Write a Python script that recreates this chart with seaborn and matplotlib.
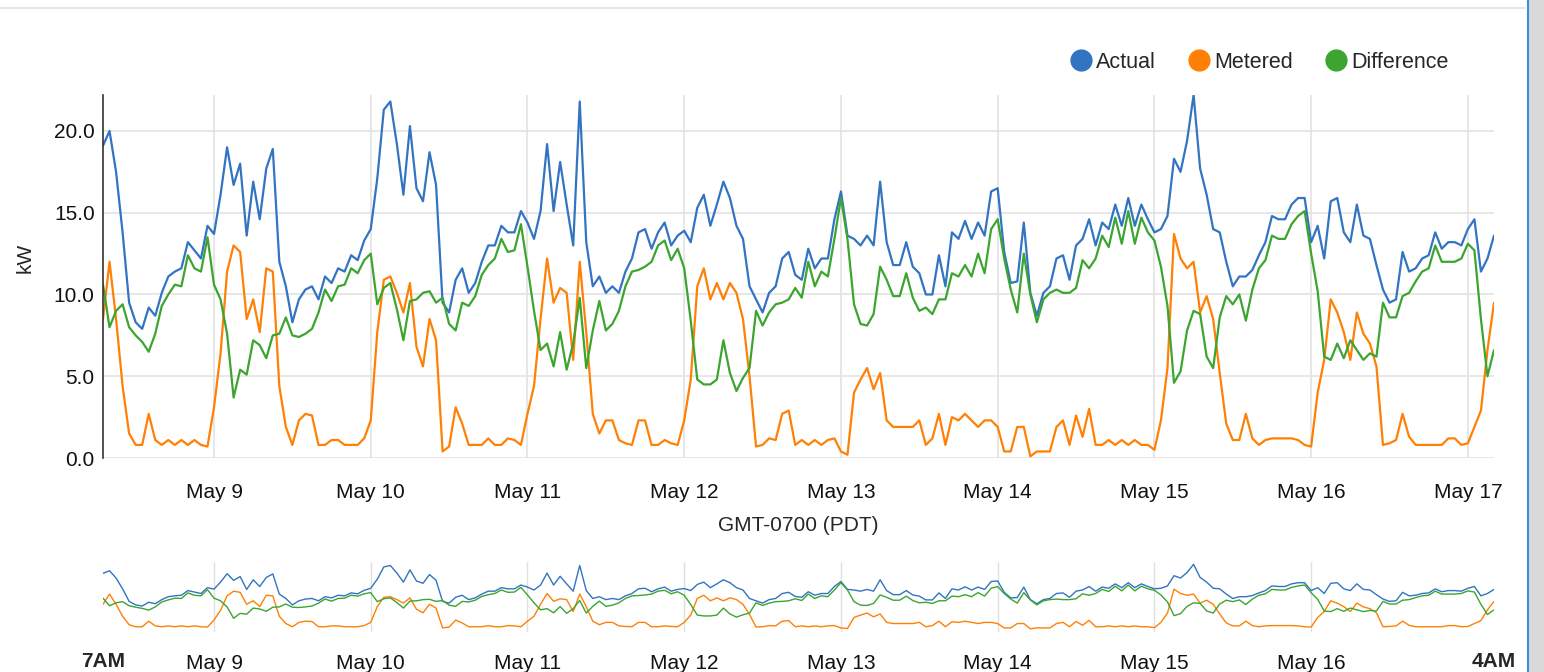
import pandas as pd
import numpy as np
import matplotlib
matplotlib.use("Agg")
import matplotlib.pyplot as plt
import matplotlib.dates as mdates
from matplotlib.lines import Line2D
import seaborn as sns

# hourly readings, May 8 7AM -> May 17 4AM
start = "2019-05-08 07:00"

actual = [
    19.1, 20.0, 17.5, 13.8, 9.5, 8.3, 7.9, 9.2, 8.7, 10.1, 11.1, 11.4, 11.6, 13.2, 12.7, 12.2, 14.2, 13.7,
    16.1, 19.0, 16.7, 18.0, 13.6, 16.9, 14.6, 17.7, 18.9, 12.0, 10.5, 8.3, 9.7, 10.3, 10.5, 9.7, 11.1, 10.7,
    11.6, 11.4, 12.4, 12.1, 13.3, 14.0, 17.1, 21.3, 21.8, 19.2, 16.1, 20.3, 16.5, 15.7, 18.7, 16.7, 9.5, 8.9,
    10.9, 11.6, 10.1, 10.7, 12.0, 13.0, 13.0, 14.2, 13.8, 13.8, 15.1, 14.4, 13.4, 15.1, 19.2, 15.1, 18.1,
    15.5, 13.0, 21.8, 13.2, 10.5, 11.1, 10.1, 10.5, 10.1, 11.4, 12.2, 13.8, 14.0, 12.8, 13.8, 14.4, 13.0,
    13.6, 13.9, 13.2, 15.3, 16.1, 14.2, 15.5, 16.9, 15.9, 14.2, 13.4, 10.5, 9.7, 8.9, 10.1, 10.5, 12.2, 12.6,
    11.2, 10.9, 12.8, 11.6, 12.2, 12.2, 14.6, 16.3, 13.6, 13.4, 13.0, 13.6, 13.0, 16.9, 13.2, 11.8, 11.8,
    13.2, 11.7, 11.3, 10.0, 10.0, 12.4, 10.5, 13.8, 13.4, 14.5, 13.4, 14.4, 13.6, 16.3, 16.5, 12.6, 10.7, 10.8,
    14.4, 10.1, 8.7, 10.1, 10.5, 12.2, 12.4, 10.9, 13.0, 13.4, 14.6, 13.0, 14.4, 14.0, 15.5, 14.2, 15.9, 14.2,
    15.5, 14.6, 13.8, 14.0, 14.8, 18.3, 17.5, 19.4, 22.2, 17.7, 16.1, 14.0, 13.8, 12.0, 10.5, 11.1, 11.1,
    11.5, 12.4, 13.2, 14.8, 14.6, 14.6, 15.5, 15.9, 15.9, 13.2, 14.2, 12.2, 15.7, 15.9, 13.8, 13.2, 15.5, 13.6,
    13.4, 11.8, 10.3, 9.5, 9.7, 12.6, 11.4, 11.6, 12.2, 12.4, 13.8, 12.8, 13.2, 13.2, 13.0, 14.0, 14.6, 11.4,
    12.2, 13.6,
]

metered = [
    8.5, 12.0, 8.5, 4.4, 1.5, 0.8, 0.8, 2.7, 1.1, 0.8, 1.1, 0.8, 1.1, 0.8, 1.1, 0.8, 0.7, 3.1,
    6.4, 11.4, 13.0, 12.6, 8.5, 9.7, 7.7, 11.6, 11.4, 4.4, 1.9, 0.8, 2.3, 2.7, 2.6, 0.8, 0.8, 1.1,
    1.1, 0.8, 0.8, 0.8, 1.2, 2.3, 7.7, 10.9, 11.1, 10.1, 8.9, 10.7, 6.8, 5.6, 8.5, 7.2, 0.4, 0.7,
    3.1, 2.1, 0.8, 0.8, 0.8, 1.2, 0.8, 0.8, 1.2, 1.1, 0.8, 2.7, 4.4, 8.5, 12.2, 9.5, 10.4,
    10.1, 6.0, 12.0, 7.7, 2.7, 1.5, 2.3, 2.3, 1.1, 0.9, 0.8, 2.3, 2.3, 0.8, 0.8, 1.1, 0.9,
    0.8, 2.3, 4.8, 10.5, 11.6, 9.7, 10.7, 9.7, 10.7, 10.1, 8.5, 5.0, 0.7, 0.8, 1.2, 1.1, 2.7, 2.9,
    0.8, 1.1, 0.8, 1.1, 0.8, 1.1, 1.2, 0.4, 0.2, 4.0, 4.8, 5.5, 4.2, 5.2, 2.3, 1.9, 1.9,
    1.9, 1.9, 2.3, 0.8, 1.2, 2.7, 0.8, 2.5, 2.3, 2.7, 2.3, 1.9, 2.3, 2.3, 1.9, 0.4, 0.4, 1.9,
    1.9, 0.1, 0.4, 0.4, 0.4, 1.9, 2.3, 0.8, 2.6, 1.3, 3.0, 0.8, 0.8, 1.1, 0.8, 1.1, 0.8, 1.1,
    0.8, 0.8, 0.5, 2.3, 5.5, 13.7, 12.2, 11.6, 12.0, 8.9, 9.9, 8.5, 5.2, 2.1, 1.1, 1.1, 2.7,
    1.2, 0.8, 1.1, 1.2, 1.2, 1.2, 1.2, 1.1, 0.8, 0.7, 4.0, 6.0, 9.7, 8.9, 7.7, 6.0, 8.9, 7.6,
    7.0, 5.6, 0.8, 0.9, 1.1, 2.7, 1.3, 0.8, 0.8, 0.8, 0.8, 0.8, 1.2, 1.2, 0.8, 0.9, 1.9, 2.9,
    6.6, 9.5,
]

difference = [
    10.6, 8.0, 9.0, 9.4, 8.0, 7.5, 7.1, 6.5, 7.6, 9.3, 10.0, 10.6, 10.5, 12.4, 11.6, 11.4, 13.5, 10.6,
    9.7, 7.6, 3.7, 5.4, 5.1, 7.2, 6.9, 6.1, 7.5, 7.6, 8.6, 7.5, 7.4, 7.6, 7.9, 8.9, 10.3, 9.6,
    10.5, 10.6, 11.6, 11.3, 12.1, 12.5, 9.4, 10.4, 10.7, 9.1, 7.2, 9.6, 9.7, 10.1, 10.2, 9.5, 9.8, 8.2,
    7.8, 9.5, 9.3, 9.9, 11.2, 11.8, 12.2, 13.4, 12.6, 12.7, 14.3, 11.7, 9.0, 6.6, 7.0, 5.6, 7.7,
    5.4, 7.0, 9.8, 5.5, 7.8, 9.6, 7.8, 8.2, 9.0, 10.5, 11.4, 11.5, 11.7, 12.0, 13.0, 13.3, 12.1,
    12.8, 11.6, 8.4, 4.8, 4.5, 4.5, 4.8, 7.2, 5.2, 4.1, 4.9, 5.5, 9.0, 8.1, 8.9, 9.4, 9.5, 9.7,
    10.4, 9.8, 12.0, 10.5, 11.4, 11.1, 13.4, 15.9, 13.4, 9.4, 8.2, 8.1, 8.8, 11.7, 10.9, 9.9, 9.9,
    11.3, 9.8, 9.0, 9.2, 8.8, 9.7, 9.7, 11.3, 11.1, 11.8, 11.1, 12.5, 11.3, 14.0, 14.6, 12.2, 10.3, 8.9,
    12.5, 10.0, 8.3, 9.7, 10.1, 10.3, 10.1, 10.1, 10.4, 12.1, 11.6, 12.2, 13.6, 12.9, 14.7, 13.1, 15.1, 13.1,
    14.7, 13.8, 13.3, 11.7, 9.3, 4.6, 5.3, 7.8, 9.0, 8.8, 6.2, 5.5, 8.6, 9.9, 9.4, 10.0, 8.4,
    10.3, 11.6, 12.1, 13.6, 13.4, 13.4, 14.3, 14.8, 15.1, 12.5, 10.2, 6.2, 6.0, 7.0, 6.1, 7.2, 6.6, 6.0,
    6.4, 6.2, 9.5, 8.6, 8.6, 9.9, 10.1, 10.8, 11.4, 11.6, 13.0, 12.0, 12.0, 12.0, 12.2, 13.1, 12.7, 8.5,
    5.0, 6.6,
]

series_names = ["Actual", "Metered", "Difference"]
colors = ["#3274c2", "#ff8005", "#3ba530"]

times = pd.date_range(start, periods=len(actual), freq="h")
df = pd.DataFrame({"time": times, "Actual": actual, "Metered": metered, "Difference": difference})
long_df = df.melt(id_vars="time", var_name="series", value_name="kW")

sns.set_style("white")
plt.rcParams["font.family"] = ["Liberation Sans", "DejaVu Sans"]

fig = plt.figure(figsize=(15.44, 6.72), dpi=100)
W, H = 1544, 672
x0, x1 = 103, 1494

# main chart
ax = fig.add_axes([x0 / W, 1 - 458 / H, (x1 - x0) / W, (458 - 95) / H])
sns.lineplot(data=long_df, x="time", y="kW", hue="series", hue_order=series_names,
             palette=colors, linewidth=1.6, legend=False, ax=ax)
ax.set_xlim(times[0], times[-1])
ax.set_ylim(0, 22.2)
ax.set_yticks([0, 5, 10, 15, 20])
ax.set_yticklabels([f"{v:.1f}" for v in [0, 5, 10, 15, 20]])
ax.xaxis.set_major_locator(mdates.DayLocator())
ax.xaxis.set_major_formatter(mdates.DateFormatter("%b %-d"))
ax.grid(True, color="#e3e3e3", linewidth=1.2)
ax.set_axisbelow(True)
for s in ["top", "right", "bottom"]:
    ax.spines[s].set_visible(False)
ax.spines["left"].set_color("#333333")
ax.spines["left"].set_linewidth(1.2)
ax.tick_params(axis="x", length=0, pad=18, labelsize=15, colors="#111111")
ax.tick_params(axis="y", length=0, pad=6, labelsize=15, colors="#111111")
ax.set_xlabel("GMT-0700 (PDT)", fontsize=15, labelpad=10)
ax.set_ylabel("kW", fontsize=15)
ax.yaxis.set_label_coords(-0.049, 0.55)

# legend
handles = [Line2D([], [], marker="o", linestyle="", markersize=15, color=c) for c in colors]
fig.legend(handles, series_names, loc="center right", bbox_to_anchor=(1468 / W, 1 - 62 / H),
           ncol=3, frameon=False, fontsize=15.5, handletextpad=-0.1, columnspacing=1.2,
           handlelength=1.6)

# navigator
nav = fig.add_axes([x0 / W, 1 - 632 / H, (x1 - x0) / W, (632 - 562) / H])
sns.lineplot(data=long_df, x="time", y="kW", hue="series", hue_order=series_names,
             palette=colors, linewidth=1.0, legend=False, ax=nav)
nav.set_xlim(times[0], times[-1])
nav.set_ylim(-1, 23)
nav.set_yticks([])
nav.set_ylabel("")
nav.set_xlabel("")
nav_days = pd.date_range("2019-05-09", "2019-05-16", freq="D")
nav.set_xticks(nav_days)
nav.xaxis.set_major_formatter(mdates.DateFormatter("%b %-d"))
nav.grid(True, axis="x", color="#e0e0e0", linewidth=1)
for s in nav.spines.values():
    s.set_visible(False)
nav.tick_params(axis="x", length=0, pad=16, labelsize=15, colors="#111111")
nav.text(0.0, -0.42, "7AM", transform=nav.transAxes, ha="center", va="center",
         fontsize=15, fontweight="bold")
nav.text(1.0, -0.42, "4AM", transform=nav.transAxes, ha="center", va="center",
         fontsize=15, fontweight="bold")

# page frame: thin top rule and right-hand scrollbar strip
fig.add_artist(Line2D([0, 1525 / W], [1 - 8 / H, 1 - 8 / H], color="#e6e6e6", linewidth=1.5))
fig.patches.append(plt.Rectangle((1529 / W, 0), 15 / W, 1, transform=fig.transFigure,
                                 facecolor="#d9d9d9", edgecolor="none"))
fig.add_artist(Line2D([1528 / W, 1528 / W], [0, 1], color="#3b8fd9", linewidth=1.5))

fig.savefig("out.png", dpi=100)
